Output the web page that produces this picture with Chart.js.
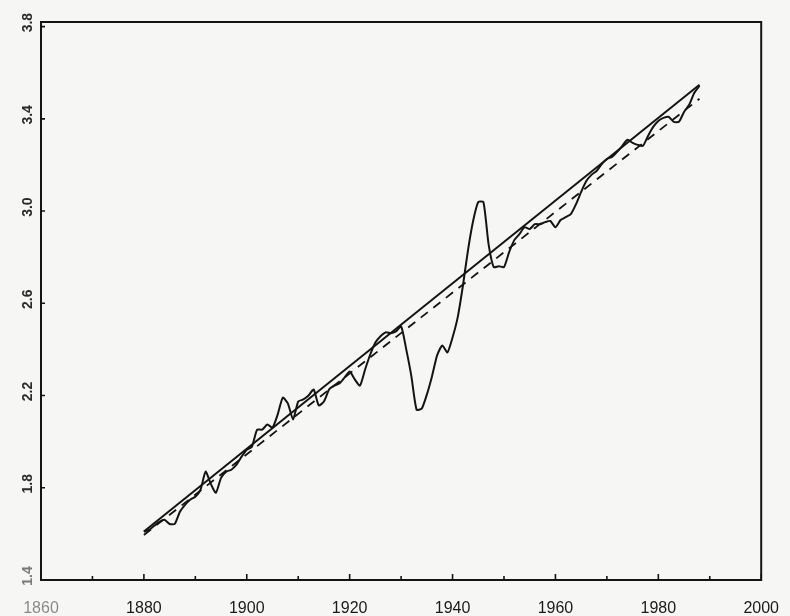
<!DOCTYPE html>
<html>
<head>
<meta charset="utf-8">
<script src="https://cdn.jsdelivr.net/npm/chart.js@4/dist/chart.umd.min.js"></script>
<style>
  html, body { margin: 0; padding: 0; background: #f6f6f5; }
  #wrap { width: 790px; height: 616px; position: relative; }
  canvas { display: block; }
</style>
</head>
<body>
<div id="wrap"><canvas id="chart" width="790" height="616"></canvas></div>
<script>
// Annual record, 1880-1988
const years = [
  1880, 1881, 1882, 1883, 1884, 1885, 1886, 1887, 1888, 1889,
  1890, 1891, 1892, 1893, 1894, 1895, 1896, 1897, 1898, 1899,
  1900, 1901, 1902, 1903, 1904, 1905, 1906, 1907, 1908, 1909,
  1910, 1911, 1912, 1913, 1914, 1915, 1916, 1917, 1918, 1919,
  1920, 1921, 1922, 1923, 1924, 1925, 1926, 1927, 1928, 1929,
  1930, 1931, 1932, 1933, 1934, 1935, 1936, 1937, 1938, 1939,
  1940, 1941, 1942, 1943, 1944, 1945, 1946, 1947, 1948, 1949,
  1950, 1951, 1952, 1953, 1954, 1955, 1956, 1957, 1958, 1959,
  1960, 1961, 1962, 1963, 1964, 1965, 1966, 1967, 1968, 1969,
  1970, 1971, 1972, 1973, 1974, 1975, 1976, 1977, 1978, 1979,
  1980, 1981, 1982, 1983, 1984, 1985, 1986, 1987, 1988
];
const observed = [
  1.609, 1.617, 1.635, 1.652, 1.661, 1.643, 1.643, 1.696, 1.726, 1.748,
  1.761, 1.791, 1.870, 1.817, 1.778, 1.843, 1.870, 1.878, 1.900, 1.935,
  1.965, 1.978, 2.052, 2.052, 2.074, 2.061, 2.117, 2.191, 2.165, 2.096,
  2.174, 2.183, 2.200, 2.226, 2.157, 2.174, 2.226, 2.243, 2.252, 2.278,
  2.304, 2.270, 2.243, 2.313, 2.378, 2.430, 2.457, 2.474, 2.470, 2.478,
  2.500, 2.400, 2.283, 2.139, 2.143, 2.204, 2.283, 2.374, 2.417, 2.387,
  2.452, 2.539, 2.674, 2.830, 2.957, 3.039, 3.039, 2.857, 2.757, 2.761,
  2.757, 2.822, 2.874, 2.900, 2.930, 2.922, 2.943, 2.943, 2.952, 2.957,
  2.930, 2.961, 2.974, 2.987, 3.030, 3.083, 3.130, 3.157, 3.174, 3.204,
  3.226, 3.235, 3.257, 3.283, 3.309, 3.296, 3.287, 3.283, 3.326, 3.365,
  3.391, 3.404, 3.409, 3.387, 3.387, 3.430, 3.461, 3.513, 3.543
];

// Fitted trend lines (end points)
const trendYears = [1880, 1988];
const trendSolid = [1.610, 3.548];
const trendDashed = [1.595, 3.487];

// Axis ticks
const xTickYears = [1860, 1880, 1900, 1920, 1940, 1960, 1980, 2000];
const xMinorYears = [1870, 1890, 1910, 1930, 1950, 1970, 1990];
const yTickValues = [1.4, 1.8, 2.2, 2.6, 3.0, 3.4, 3.8];
const yTickLabels = ['1.4', '1.8', '2.2', '2.6', '3.0', '3.4', '3.8'];

const INK = '#141414';

function pairs(xs, ys) {
  return xs.map((x, i) => ({ x: x, y: ys[i] }));
}

// Boxed frame, inward tick marks and rotated value labels on the left
const framePlugin = {
  id: 'frame',
  afterDatasetsDraw(chart) {
    const { ctx, chartArea: a, scales: { x, y } } = chart;
    ctx.save();
    ctx.strokeStyle = INK;
    ctx.lineWidth = 2;
    ctx.strokeRect(a.left, a.top, a.right - a.left, a.bottom - a.top);

    ctx.lineWidth = 1.6;
    ctx.beginPath();
    xTickYears.forEach(v => {
      const px = x.getPixelForValue(v);
      ctx.moveTo(px, a.bottom);
      ctx.lineTo(px, a.bottom - 6);
    });
    xMinorYears.forEach(v => {
      const px = x.getPixelForValue(v);
      ctx.moveTo(px, a.bottom);
      ctx.lineTo(px, a.bottom - 4);
    });
    yTickValues.forEach(v => {
      const py = y.getPixelForValue(v);
      ctx.moveTo(a.left, py);
      ctx.lineTo(a.left + 4, py);
    });
    ctx.stroke();

    ctx.font = 'bold 14px "Liberation Sans", Arial, sans-serif';
    ctx.textAlign = 'center';
    ctx.textBaseline = 'middle';
    yTickValues.forEach((v, i) => {
      const py = y.getPixelForValue(v) - 4;
      ctx.fillStyle = (i === 0) ? '#7a7a7a' : '#2a2a2a';
      ctx.save();
      ctx.translate(a.left - 13, py);
      ctx.rotate(-Math.PI / 2);
      ctx.fillText(yTickLabels[i], 0, 0);
      ctx.restore();
    });
    ctx.restore();
  }
};

new Chart(document.getElementById('chart'), {
  type: 'line',
  data: {
    datasets: [
      {
        label: 'observed',
        data: pairs(years, observed),
        borderColor: INK,
        borderWidth: 2,
        pointRadius: 0,
        tension: 0.2,
        fill: false
      },
      {
        label: 'trend',
        data: pairs(trendYears, trendSolid),
        borderColor: INK,
        borderWidth: 2,
        pointRadius: 0,
        fill: false
      },
      {
        label: 'trend (dashed)',
        data: pairs(trendYears, trendDashed),
        borderColor: INK,
        borderWidth: 1.8,
        borderDash: [9, 7],
        pointRadius: 0,
        fill: false
      }
    ]
  },
  options: {
    responsive: false,
    animation: false,
    devicePixelRatio: 1,
    parsing: false,
    layout: { padding: { left: 0, right: 22, top: 22, bottom: 0 } },
    plugins: {
      legend: { display: false },
      tooltip: { enabled: false }
    },
    scales: {
      x: {
        type: 'linear',
        min: 1860,
        max: 2000,
        grid: { display: false },
        border: { display: false },
        afterBuildTicks: s => { s.ticks = xTickYears.map(v => ({ value: v })); },
        afterFit: s => { s.height = 36; },
        ticks: {
          autoSkip: false,
          maxRotation: 0,
          minRotation: 0,
          padding: 11,
          color: c => (c.tick && c.tick.value === 1860) ? '#8a8a8a' : '#1a1a1a',
          font: { family: '"Liberation Sans", Arial, sans-serif', size: 16 },
          callback: v => String(v)
        }
      },
      y: {
        type: 'linear',
        min: 1.4,
        max: 3.82,
        grid: { display: false },
        border: { display: false },
        ticks: { display: false },
        afterFit: s => { s.width = 41; }
      }
    }
  },
  plugins: [framePlugin]
});
</script>
</body>
</html>
